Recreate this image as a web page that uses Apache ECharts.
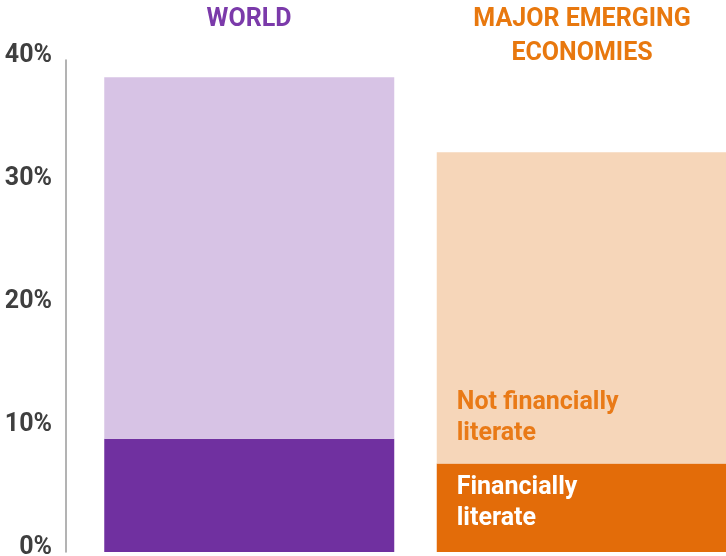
<!DOCTYPE html>
<html>
<head>
<meta charset="utf-8">
<script src="https://cdn.jsdelivr.net/npm/echarts@6/dist/echarts.min.js"></script>
<style>
  html, body { margin: 0; padding: 0; background: #fff; }
  #chart { width: 726px; height: 556px; }
</style>
</head>
<body>
<div id="chart"></div>
<script>
// data
const categories = ['WORLD', 'MAJOR EMERGING\nECONOMIES']
const literate = [9.2, 7.2]
const notLiterate = [29.4, 25.3]
const yTicks = [0, 10, 20, 30, 40]

const titleColors = ['#7b3aaa', '#e8780e']
const titleLeft = [249, 582]
const darkColors = ['#7030a0', '#e36c09']
const lightColors = ['#d7c3e5', '#f6d6b9']
const font = 'Roboto, "DejaVu Sans", sans-serif'

const chart = echarts.init(document.getElementById('chart'))
chart.setOption({
  animation: false,
  // column headings above the bars
  title: categories.map((c, i) => ({
    text: c,
    left: titleLeft[i],
    top: 3,
    textAlign: 'center',
    padding: 0,
    textStyle: {
      color: titleColors[i],
      fontFamily: font,
      fontWeight: 'bold',
      fontSize: 25,
      lineHeight: 34
    }
  })),
  grid: {
    top: 60,
    bottom: 4,
    left: 83,
    right: -22,
    containLabel: false,
    outerBoundsMode: 'none'
  },
  xAxis: {
    type: 'category',
    data: categories,
    show: false
  },
  yAxis: {
    type: 'value',
    min: yTicks[0],
    max: yTicks[yTicks.length - 1],
    interval: 10,
    offset: 17,
    splitLine: { show: false },
    axisTick: { show: false },
    axisLine: { show: true, lineStyle: { color: '#9a9a9a', width: 1.5 } },
    axisLabel: {
      formatter: '{value}%',
      margin: 14,
      color: '#3f3f3f',
      fontFamily: font,
      fontWeight: 'bold',
      fontSize: 25,
      lineHeight: 8,
      verticalAlign: 'bottom'
    }
  },
  series: [
    {
      name: 'Financially literate',
      type: 'bar',
      stack: 'total',
      barWidth: 290,
      data: literate.map((v, i) => ({
        value: v,
        itemStyle: { color: darkColors[i] },
        label: {
          show: i === 1,
          formatter: 'Financially\nliterate',
          position: 'insideTopLeft',
          distance: 20,
          offset: [0, -11],
          color: '#fff',
          fontFamily: font,
          fontWeight: 'bold',
          fontSize: 25,
          lineHeight: 31
        }
      }))
    },
    {
      name: 'Not financially literate',
      type: 'bar',
      stack: 'total',
      barWidth: 290,
      data: notLiterate.map((v, i) => ({
        value: v,
        itemStyle: { color: lightColors[i] },
        label: {
          show: i === 1,
          formatter: 'Not financially\nliterate',
          position: 'insideBottomLeft',
          distance: 20,
          offset: [0, 6],
          color: '#e97a17',
          fontFamily: font,
          fontWeight: 'bold',
          fontSize: 25,
          lineHeight: 31
        }
      }))
    }
  ]
})
</script>
</body>
</html>
